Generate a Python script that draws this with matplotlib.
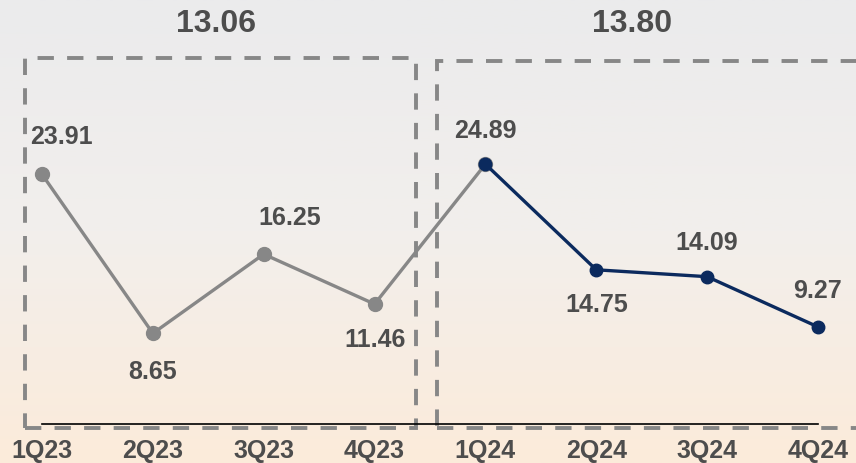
import numpy as np
import matplotlib.pyplot as plt
from matplotlib.patches import Rectangle
from matplotlib.colors import LinearSegmentedColormap

quarters = ["1Q23", "2Q23", "3Q23", "4Q23", "1Q24", "2Q24", "3Q24", "4Q24"]
values = [23.91, 8.65, 16.25, 11.46, 24.89, 14.75, 14.09, 9.27]
year_avgs = ["13.06", "13.80"]

plt.rcParams['font.family'] = ['Liberation Sans', 'DejaVu Sans']

grey = "#878787"
navy = "#0b2a5e"
txt = "#4d4d4d"

fig = plt.figure(figsize=(8.56, 4.63), dpi=100)

# background gradient, grey on top fading to peach
bg = fig.add_axes([0, 0, 1, 1])
cmap = LinearSegmentedColormap.from_list("bg", ["#ebebec", "#f2efec", "#fcebda"])
grad = np.linspace(0, 1, 256).reshape(-1, 1)
bg.imshow(grad, cmap=cmap, aspect="auto", extent=[0, 1, 0, 1], origin="upper")
bg.axis("off")

ax = fig.add_axes([0, 0, 1, 1])
ax.patch.set_alpha(0)
x = np.arange(len(quarters))

ax.plot(x[:5], values[:5], color=grey, lw=2.4, marker="o", ms=10, zorder=3)
ax.plot(x[4:], values[4:], color=navy, lw=2.4, marker="o", ms=9, zorder=4)

# baseline
ax.plot([x[0], x[-1]], [0, 0], color="black", lw=1.2, zorder=2)

# value labels: (dx, dy) in points
offsets = [(14, 27), (0, -28), (19, 26), (0, -26), (0, 24), (0, -25), (0, 24), (0, 26)]
for xi, v, (dx, dy) in zip(x, values, offsets):
    ax.annotate(f"{v:.2f}", (xi, v), xytext=(dx, dy), textcoords="offset points",
                ha="center", va="center", fontsize=18, fontweight="bold", color=txt)

# dashed year boxes
dash = (0, (4.2, 3.4))
ax.add_patch(Rectangle((-0.153, -0.43), 3.527, 35.5, fill=False, ec=grey,
                       lw=2.8, ls=dash, zorder=1))
ax.add_patch(Rectangle((3.563, -0.43), 4.2, 35.2, fill=False, ec=grey,
                       lw=2.8, ls=dash, zorder=1))

ax.text(1.57, 38.3, year_avgs[0], ha="center", va="center", fontsize=23,
        fontweight="bold", color=txt)
ax.text(5.32, 38.3, year_avgs[1], ha="center", va="center", fontsize=23,
        fontweight="bold", color=txt)

for xi, q in zip(x, quarters):
    ax.text(xi, -2.6, q, ha="center", va="center", fontsize=18,
            fontweight="bold", color=txt)

ax.set_xlim(-0.379, 7.343)
ax.set_ylim(-3.79, 40.64)
ax.axis("off")

fig.savefig("out.png", dpi=100)
